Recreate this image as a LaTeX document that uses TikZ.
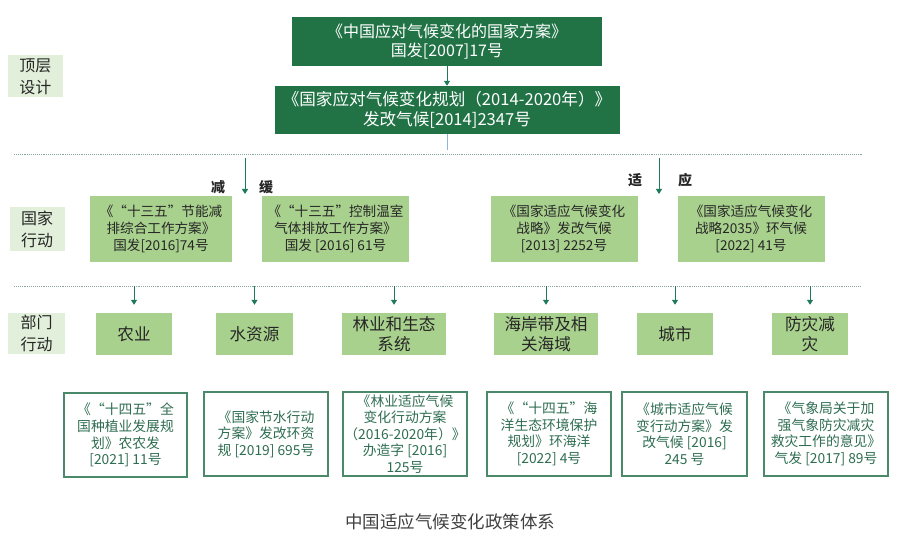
\documentclass[tikz,border=0pt]{standalone}
\usepackage{fontspec}
\setmainfont{Noto Sans CJK SC}
\usepackage{tikz}
\usetikzlibrary{arrows.meta,positioning}
\definecolor{plangreen}{HTML}{217346}
\definecolor{actgreen}{HTML}{A9D18E}
\definecolor{levelgray}{HTML}{E2EFDA}
\definecolor{arrowgreen}{HTML}{1E7A5A}
\definecolor{docgreen}{HTML}{4A8A6A}
\definecolor{doctext}{HTML}{2F6E52}
\definecolor{sepgray}{HTML}{8AA69C}
\definecolor{linkblue}{HTML}{8FB3D9}

\begin{document}
\begin{tikzpicture}[
  x=1pt,y=-1pt,
  every node/.style={align=center,inner sep=0pt},
  plan/.style={fill=plangreen,text=white,minimum height=49pt,
              font=\fontsize{16}{19.5}\selectfont},
  level/.style={fill=levelgray,text=black!85,minimum width=55pt,minimum height=42pt,
               font=\fontsize{16}{22}\selectfont},
  act/.style={fill=actgreen,text=black!85,minimum height=66pt,
             font=\fontsize{13.6}{17}\selectfont},
  sector/.style={fill=actgreen,text=black!85,minimum height=42pt,
                font=\fontsize{16.6}{20}\selectfont},
  doc/.style={draw=docgreen,line width=1.1pt,fill=white,text=doctext,
             minimum height=84pt,font=\fontsize{13.8}{16.6}\selectfont},
  tag/.style={font=\fontsize{14}{16}\selectfont\bfseries,text=black!85},
  arr/.style={-{Triangle[length=5pt,width=6pt]},draw=arrowgreen,line width=1pt},
  sep/.style={densely dotted,draw=sepgray,line width=0.9pt}
]
\useasboundingbox (0,0) rectangle (904,545);

% top level design
\node[plan,minimum width=310pt] (nat) at (447,41.5) {《中国应对气候变化的国家方案》\\国发[2007]17号};
\node[plan,minimum width=345pt,minimum height=48pt,font=\fontsize{16.6}{19.5}\selectfont] (natplan) at (447,110) {《国家应对气候变化规划（2014-2020年）》\\发改气候[2014]2347号};
\node[level] (lvltop) at (35.5,76.5) {顶层\\设计};
\draw[arr] (nat) -- (natplan);
\coordinate (planend) at (447,150);
\draw[linkblue,line width=0.8pt] (natplan.south) -- (planend);

\coordinate (sepAl) at (14,154);
\coordinate (sepAr) at (862,154);
\draw[sep] (sepAl) -- (sepAr);

% national action
\node[level,minimum height=44pt] (lvlnat) at (37,229) {国家\\行动};
\node[act,minimum width=142pt] (save) at (161,229) {《“十三五”节能减\\排综合工作方案》\\国发[2016]74号};
\node[act,minimum width=147pt] (ghg) at (335.5,229) {《“十三五”控制温室\\气体排放工作方案》\\国发 [2016] 61号};
\node[act,minimum width=147pt] (adapt) at (564,229) {《国家适应气候变化\\战略》发改气候\\{[2013]} 2252号};
\node[act,minimum width=147pt] (adapt35) at (751,229) {《国家适应气候变化\\战略2035》环气候\\{[2022]} 41号};

\coordinate (mitig) at (245,158);
\coordinate (mitigend) at (245,194);
\draw[arr] (mitig) -- (mitigend);
\node[tag] at (218,187) {减};
\node[tag] at (266,187) {缓};
\coordinate (adap) at (659,158);
\coordinate (adapend) at (659,194);
\draw[arr] (adap) -- (adapend);
\node[tag] at (635,180) {适};
\node[tag] at (685,180) {应};

\coordinate (sepBl) at (14,286);
\coordinate (sepBr) at (860,286);
\draw[sep] (sepBl) -- (sepBr);

% sector action
\node[level,minimum width=57pt,minimum height=41pt] (lvlsec) at (36.5,333.5) {部门\\行动};
\node[sector,minimum width=76pt] (agri) at (134,334) {农业};
\node[sector,minimum width=77pt] (water) at (254.5,334) {水资源};
\node[sector,minimum width=104pt] (forest) at (394,334) {林业和生态\\系统};
\node[sector,minimum width=104pt] (coast) at (546,334) {海岸带及相\\关海域};
\node[sector,minimum width=76pt] (city) at (675,334) {城市};
\node[sector,minimum width=76pt] (disaster) at (810,334) {防灾减\\灾};
\foreach \s in {agri,water,forest,coast,city,disaster}
  \draw[arr] (\s.north |- sepBl) -- ([yshift=8pt]\s.north);

% sector documents
\node[doc,minimum width=123pt] (agridoc) at (125.5,435) {《“十四五”全\\国种植业发展规\\划》农农发\\{[2021]} 11号};
\node[doc,minimum width=124pt] (waterdoc) at (266,434) {《国家节水行动\\方案》发改环资\\规 [2019] 695号};
\node[doc,minimum width=124pt] (forestdoc) at (405,434) {《林业适应气候\\变化行动方案\\（2016-2020年）》\\办造字 [2016]\\125号};
\node[doc,minimum width=124pt] (coastdoc) at (549,434) {《“十四五”海\\洋生态环境保护\\规划》环海洋\\{[2022]} 4号};
\node[doc,minimum width=125pt] (citydoc) at (684.5,434) {《城市适应气候\\变行动方案》发\\改气候 [2016]\\245 号};
\node[doc,minimum width=124pt] (disasterdoc) at (826,434) {《气象局关于加\\强气象防灾减灾\\救灾工作的意见》\\气发 [2017] 89号};

\node[text=black!75,font=\fontsize{17.5}{20}\selectfont] (caption) at (450,522) {中国适应气候变化政策体系};
\end{tikzpicture}
\end{document}
